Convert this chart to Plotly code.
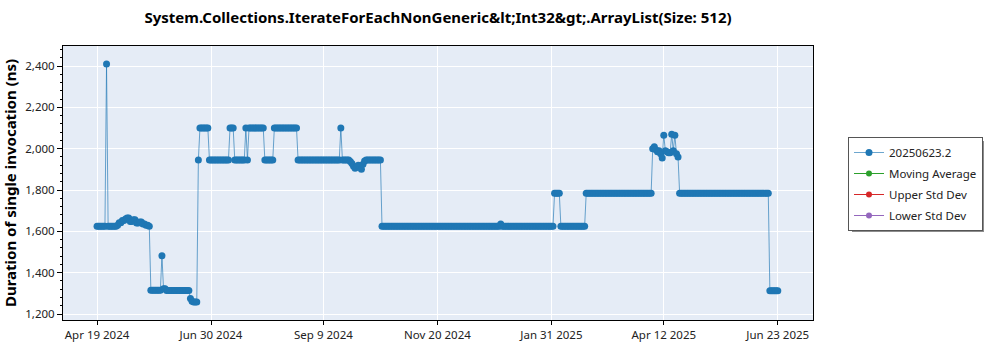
import plotly.graph_objects as go
import pandas as pd

# ---- data -------------------------------------------------------------
title_text = "System.Collections.IterateForEachNonGeneric&amp;lt;Int32&amp;gt;.ArrayList(Size: 512)"
series_name = "20250623.2"
start_date = "2024-04-19"
last_day = 430  # Jun 23 2025

# runs of (start day offset, value)
run_start_day = [0, 6, 7, 13, 14, 16, 18, 19, 21, 23,
                 25, 27, 29, 31, 33, 34, 41, 42, 44, 59,
                 60, 61, 64, 65, 71, 84, 87, 94, 95, 96,
                 106, 112, 127, 154, 155, 160, 161, 162, 163, 164,
                 165, 166, 167, 168, 169, 170, 180, 255, 256, 289,
                 293, 309, 351, 352, 353, 354, 355, 356, 357, 358,
                 359, 360, 361, 363, 364, 365, 366, 367, 368, 425]
run_value = [1625, 2410, 1625, 1630, 1642, 1652, 1660, 1665, 1648, 1656,
             1640, 1645, 1636, 1630, 1625, 1315, 1482, 1322, 1314, 1275,
             1262, 1258, 1945, 2100, 1945, 2100, 1945, 2100, 1945, 2100,
             1945, 2100, 1945, 2100, 1945, 1938, 1928, 1915, 1905, 1912,
             1920, 1910, 1900, 1925, 1940, 1945, 1625, 1635, 1625, 1785,
             1625, 1785, 2000, 2010, 1995, 1985, 1990, 1975, 1955, 2065,
             1990, 1985, 1980, 2070, 1990, 2065, 1975, 1960, 1785, 1312]

x_tick_vals = ["2024-04-19", "2024-06-30", "2024-09-09", "2024-11-20",
               "2025-01-31", "2025-04-12", "2025-06-23"]
x_tick_text = ["Apr 19 2024", "Jun 30 2024", "Sep 9 2024", "Nov 20 2024",
               "Jan 31 2025", "Apr 12 2025", "Jun 23 2025"]
y_tick_vals = [1200, 1400, 1600, 1800, 2000, 2200, 2400]

legend_names = ["Moving Average", "Upper Std Dev", "Lower Std Dev"]
legend_colors = ["#2ca02c", "#d62728", "#9467bd"]

# expand runs into daily points
base = pd.Timestamp(start_date)
xs, ys = [], []
bounds = run_start_day + [last_day + 1]
for i, v in enumerate(run_value):
    for d in range(bounds[i], bounds[i + 1]):
        xs.append(base + pd.Timedelta(days=d))
        ys.append(v)

FONT = "Noto Sans"

fig = go.Figure()
fig.add_trace(go.Scatter(
    x=xs, y=ys, mode="lines+markers", name=series_name, legendgroup="a",
    line=dict(color="rgba(31,119,180,0.65)", width=1),
    marker=dict(color="#1f77b4", size=7, line=dict(width=0)),
))
for i, (n, c) in enumerate(zip(legend_names, legend_colors)):
    fig.add_trace(go.Scatter(
        x=[None], y=[None], mode="lines+markers", name=n, legendgroup=str(i),
        line=dict(color=c, width=1), marker=dict(color=c, size=6),
    ))

L, R, T, B = 63, 187, 46, 30
PW, PH = 1000 - L - R, 350 - T - B

fig.update_layout(
    width=1000, height=350,
    margin=dict(l=L, r=R, t=T, b=B, pad=0, autoexpand=False),
    paper_bgcolor="white", plot_bgcolor="#e5ecf6",
    font=dict(family=FONT, size=11.5, color="#222"),
    title=dict(text="<b>" + title_text + "</b>", x=0.5, xref="paper",
               xanchor="center", y=1 - 18 / 350, yanchor="middle",
               font=dict(family=FONT, size=15, color="black")),
    showlegend=True,
    legend=dict(x=(848 - L) / PW, y=(350 - B - 137) / PH, xanchor="left", yanchor="top",
                bgcolor="white", bordercolor="#555", borderwidth=1,
                font=dict(family=FONT, size=11.5, color="#222"),
                itemwidth=30, tracegroupgap=2),
    xaxis=dict(range=["2024-03-28 12:00", "2025-07-15 06:00"],
               tickvals=x_tick_vals, ticktext=x_tick_text, automargin=False,
               showgrid=True, gridcolor="white", gridwidth=1,
               ticks="outside", ticklen=4, tickcolor="black",
               showline=True, linecolor="black", linewidth=1, mirror=True,
               zeroline=False, tickfont=dict(size=11.5, color="#222")),
    yaxis=dict(range=[1171, 2497], tickvals=y_tick_vals, tickformat=",",
               automargin=False,
               showgrid=True, gridcolor="white", gridwidth=1,
               ticks="outside", ticklen=5, tickcolor="black",
               minor=dict(dtick=40, ticks="outside", ticklen=2, tickcolor="black", showgrid=False),
               showline=True, linecolor="black", linewidth=1, mirror=True,
               zeroline=False, tickfont=dict(size=11.5, color="#222"),
               title=dict(text="<b>Duration of single invocation (ns)</b>",
                          font=dict(family=FONT, size=15, color="black"), standoff=8)),
)

# legend drop shadow
fig.add_shape(type="rect", xref="paper", yref="paper", layer="above",
              x0=(852 - L) / PW, x1=(984 - L) / PW,
              y0=(350 - B - 232) / PH, y1=(350 - B - 141) / PH,
              fillcolor="#8c8c8c", line=dict(width=0))

fig.write_html("out.html")
